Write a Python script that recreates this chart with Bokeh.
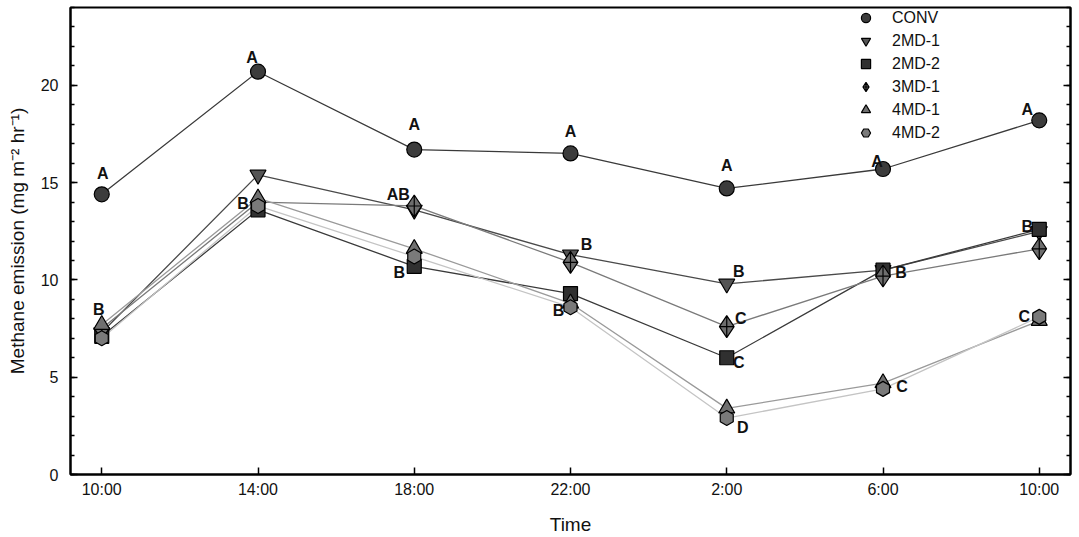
import numpy as np
from bokeh.plotting import figure
from bokeh.models import (FixedTicker, LinearAxis, Legend, LegendItem, Range1d,
                          ColumnDataSource)
from bokeh.core.properties import value
from bokeh.embed import file_html
from bokeh.resources import INLINE

# ---------------- data ----------------
times = ["10:00", "14:00", "18:00", "22:00", "2:00", "6:00", "10:00"]
conv = [14.4, 20.7, 16.7, 16.5, 14.7, 15.7, 18.2]
md2_1 = [7.3, 15.4, 13.6, 11.3, 9.8, 10.5, 12.5]
md2_2 = [7.1, 13.6, 10.7, 9.3, 6.0, 10.5, 12.6]
md3_1 = [7.5, 14.0, 13.8, 10.9, 7.6, 10.2, 11.6]
md4_1 = [7.7, 14.2, 11.6, 8.8, 3.4, 4.7, 7.9]
md4_2 = [7.0, 13.8, 11.2, 8.6, 2.9, 4.4, 8.1]
series_names = ["CONV", "2MD-1", "2MD-2", "3MD-1", "4MD-1", "4MD-2"]
series_values = [conv, md2_1, md2_2, md3_1, md4_1, md4_2]

y_ticks = [0, 5, 10, 15, 20]

# significance letters: time index, letter, series it belongs to
label_time = [0, 0, 1, 1, 2, 2, 2, 3, 3, 3, 4, 4, 4, 4, 4, 5, 5, 5, 6, 6, 6]
label_text = ["A", "B", "A", "B", "A", "AB", "B", "A", "B", "B",
              "A", "B", "C", "C", "D", "A", "B", "C", "A", "B", "C"]
label_series = ["CONV", "4MD-1", "CONV", "3MD-1", "CONV", "3MD-1", "2MD-2",
                "CONV", "2MD-1", "4MD-2", "CONV", "2MD-1", "3MD-1", "2MD-2",
                "4MD-2", "CONV", "2MD-2", "4MD-1", "CONV", "2MD-2", "4MD-2"]

# ---------------- styles ----------------
label_dx = [1, -3, -6, -15, 0, -16, -15, 0, 16, -12, 0, 12, 14, 12, 16,
            -6, 18, 19, -12, -12, -15]
label_dy = [-21, -15, -14, 1, -25, -11, 6, -22, -10, 3, -23, -12, -8, 5, 9,
            -8, 2, 3, -11, -3, 0]

styles = {
    "CONV": dict(marker="circle", fill="#3c3c3c", line="#3a3a3a", size=15, angle=0.0),
    "2MD-1": dict(marker="inverted_triangle", fill="#555555", line="#4a4a4a", size=16, angle=0.0),
    "2MD-2": dict(marker="square", fill="#303030", line="#3a3a3a", size=14, angle=0.0),
    "3MD-1": dict(marker="diamond_cross", fill="#6e6e6e", line="#7a7a7a", size=22, angle=0.0),
    "4MD-1": dict(marker="triangle", fill="#707070", line="#9a9a9a", size=16, angle=0.0),
    "4MD-2": dict(marker="hex", fill="#7a7a7a", line="#c4c4c4", size=15, angle=np.pi / 2),
}

FONT = "Liberation Sans"

p = figure(width=1079, height=537, output_backend="svg", toolbar_location=None,
           x_range=Range1d(-0.2, 6.2), y_range=Range1d(0, 24),
           min_border_left=70, min_border_right=9, min_border_top=7,
           min_border_bottom=63, background_fill_color="white",
           border_fill_color="white")
p.grid.visible = False
p.outline_line_color = "black"
p.outline_line_width = 2

xs = list(range(len(times)))

# lines first
for name, vals in zip(series_names, series_values):
    st = styles[name]
    p.line(xs, vals, line_color=st["line"], line_width=1.3)

legend_items = []
for name, vals in zip(series_names, series_values):
    st = styles[name]
    r = p.scatter(xs, vals, marker=st["marker"], size=st["size"],
                  fill_color=st["fill"], line_color="black", line_width=1.2,
                  angle=st["angle"])
    legend_items.append(LegendItem(label=name, renderers=[r]))

# letters
lookup = dict(zip(series_names, series_values))
lab_src = ColumnDataSource(dict(
    x=label_time,
    y=[lookup[s][t] for s, t in zip(label_series, label_time)],
    text=label_text, dx=label_dx, dy=label_dy))
p.text(x="x", y="y", text="text", x_offset="dx", y_offset="dy", source=lab_src,
       text_font=value(FONT), text_font_style="bold", text_font_size="16px",
       text_align="center", text_baseline="middle", text_color="#111111")

# axes
xa = p.xaxis[0]
xa.ticker = FixedTicker(ticks=xs)
xa.major_label_overrides = {i: t for i, t in enumerate(times)}
xa.axis_label = "Time"
ya = p.yaxis[0]
ya.ticker = FixedTicker(ticks=y_ticks, minor_ticks=list(range(0, 25)))
ya.axis_label = "Methane emission (mg m\u207b\u00b2 hr\u207b\u00b9)"

for ax in (xa, ya):
    ax.axis_line_width = 2
    ax.axis_line_color = "black"
    ax.major_tick_in = 7
    ax.major_tick_out = 0
    ax.minor_tick_in = 4
    ax.minor_tick_out = 0
    ax.major_tick_line_width = 1.5
    ax.minor_tick_line_width = 1.5
    ax.major_label_text_font = FONT
    ax.major_label_text_font_size = "16px"
    ax.major_label_text_color = "#111111"
    ax.axis_label_text_font = FONT
    ax.axis_label_text_font_size = "19px"
    ax.axis_label_text_font_style = "normal"
    ax.axis_label_text_color = "#111111"
xa.minor_tick_in = 0
xa.major_label_standoff = 6
xa.axis_label_standoff = 13
ya.major_label_standoff = 12
ya.axis_label_standoff = 10

ra = LinearAxis(ticker=FixedTicker(ticks=y_ticks, minor_ticks=list(range(0, 25))))
ra.major_label_overrides = {t: "" for t in y_ticks}
ra.major_label_standoff = 0
ra.axis_line_width = 2
ra.major_tick_in = 7
ra.major_tick_out = 0
ra.minor_tick_in = 4
ra.minor_tick_out = 0
ra.major_tick_line_width = 1.5
ra.minor_tick_line_width = 1.5
p.add_layout(ra, "right")

legend = Legend(items=legend_items, location=(784, 330), border_line_color=None,
                background_fill_alpha=0, padding=0, margin=0, spacing=0,
                glyph_width=23, glyph_height=23, label_standoff=15,
                label_text_font=FONT, label_text_font_size="16px",
                label_text_color="#111111")
p.add_layout(legend)

open("out.html", "w").write(file_html(p, INLINE))
